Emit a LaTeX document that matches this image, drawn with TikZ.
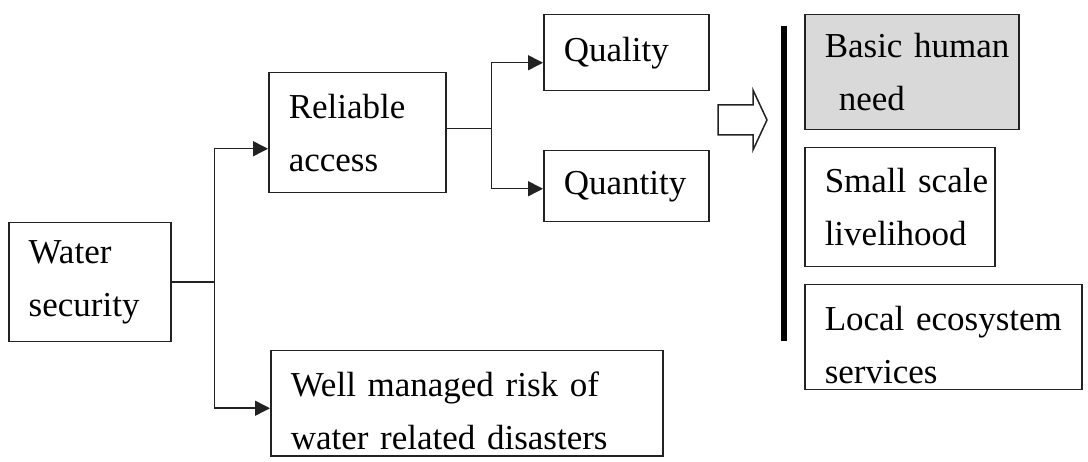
\documentclass[tikz,border=0pt]{standalone}
\usepackage{fontspec}
\setmainfont{Liberation Serif}
\usepackage{tikz}
\usetikzlibrary{positioning,arrows.meta,calc}
\definecolor{cLine}{HTML}{222222}
\definecolor{cNeed}{HTML}{D9D9D9}
\tikzset{
  box/.style={draw=cLine,line width=1.5pt,anchor=north west,align=left,inner xsep=0pt,inner ysep=0pt,
    font=\fontsize{35}{53}\selectfont,execute at begin node={\leftskip=20pt}},
  lowtext/.style={execute at begin node={\rule{0pt}{39pt}}},
  link/.style={draw=cLine,line width=1.5pt},
  arr/.style={link,-{Triangle[length=15pt,width=15pt]}},
  bar/.style={line width=6pt},
  blockarr/.style={draw=cLine,line width=1.5pt,fill=white,line join=miter}}

\begin{document}
\begin{tikzpicture}[x=1pt,y=1pt]
\useasboundingbox (0,0) rectangle (1088,461);
% left part
\node[box,text width=162pt,minimum height=119pt] (water) at (8,239) {Water\\security};
\node[box,text width=177pt,minimum height=120pt] (reliable) at (268,389) {Reliable\\access};
\node[box,text width=165pt,minimum height=76pt] (quality) at (543,447) {Quality};
\node[box,text width=165pt,minimum height=71pt] (quantity) at (543,311) {Quantity};
\node[box,lowtext,text width=392pt,minimum height=105pt] (wellrisk) at (270,111) {Well managed risk of\\water related disasters};
% right part
\node[box,fill=cNeed,text width=214pt,minimum height=115pt] (basic) at (804,447) {Basic human\\\hspace*{0.4em}need};
\node[box,text width=190pt,minimum height=119pt] (small) at (804,314) {Small scale\\livelihood};
\node[box,lowtext,text width=277pt,minimum height=105pt] (local) at (804,177) {Local ecosystem\\services};
% connectors
\draw[link] (water.east) -- ++(43,0) coordinate (fork1);
\draw[arr] (fork1) |- ([yshift=-16pt]reliable.west);
\draw[arr] (fork1) |- ([yshift=-5pt]wellrisk.west);
\draw[link] ([yshift=4pt]reliable.east) -- ++(45,0) coordinate (fork2);
\draw[arr] (fork2) |- ([yshift=-10pt]quality.west);
\draw[arr] (fork2) |- ([yshift=-2.5pt]quantity.west);
% block arrow and bar
\draw[blockarr] (718,356) -- (753,356) -- (753,371) -- (767,341) -- (753,311) -- (753,326) -- (718,326) -- cycle;
\draw[bar] (784,435) -- (784,120);
\end{tikzpicture}
\end{document}
